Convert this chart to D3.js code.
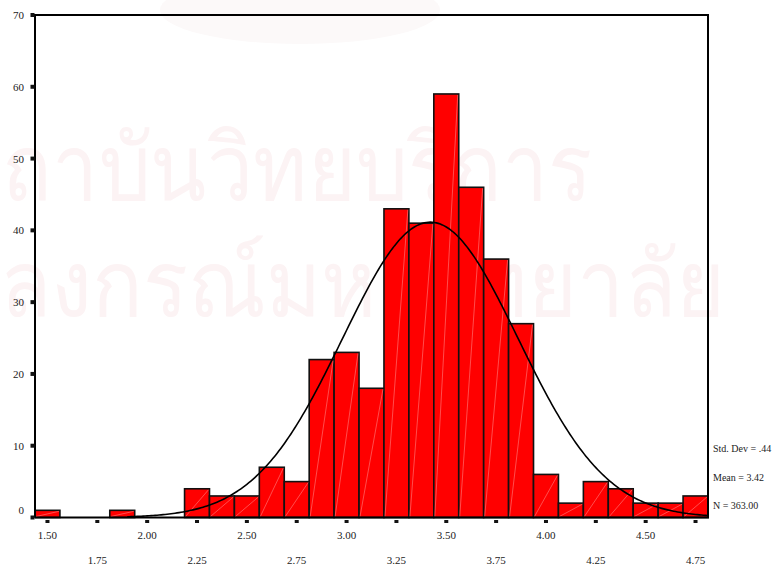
<!DOCTYPE html>
<html>
<head>
<meta charset="utf-8">
<script src="https://cdn.jsdelivr.net/npm/d3@7"></script>
<style>
	body { margin: 0; background: #fff; }
	svg text { font-family: "Liberation Serif", "DejaVu Serif", serif; fill: #222; }
</style>
</head>
<body>
<svg id="chart" width="773" height="565"></svg>
<script>
"use strict";

// bin centres (width .125) and counts
const binCentres = [1.5, 1.625, 1.75, 1.875, 2.0, 2.125, 2.25, 2.375, 2.5, 2.625, 2.75, 2.875,
	3.0, 3.125, 3.25, 3.375, 3.5, 3.625, 3.75, 3.875, 4.0, 4.125, 4.25, 4.375, 4.5, 4.625, 4.75];
const counts = [1, 0, 0, 1, 0, 0, 4, 3, 3, 7, 5, 22,
	23, 18, 43, 41, 59, 46, 36, 27, 6, 2, 5, 4, 2, 2, 3];
const binWidth = 0.125;
const xTicks = [1.5, 1.75, 2.0, 2.25, 2.5, 2.75, 3.0, 3.25, 3.5, 3.75, 4.0, 4.25, 4.5, 4.75];
const yTicks = [0, 10, 20, 30, 40, 50, 60, 70];
const stats = { sd: 0.44, mean: 3.42, n: 363 };
const statLabels = ['Std. Dev = .44', 'Mean = 3.42', 'N = 363.00'];
const watermark = ['ถาบันวิทยบริการ', 'ลงกรณ์มหาวิทยาลัย'];

(() => {
	const svg = d3.select('#chart');
	const left = 35, right = 708, top = 15, bottom = 517.5;

	const x = d3.scaleLinear().domain([1.4375, 4.8125]).range([left, right]);
	const y = d3.scaleLinear().domain([0, 70]).range([bottom, top]);

	// very faint watermark in the background
	const wm = svg.append('g').attr('class', 'watermark');
	wm.append('ellipse')
		.attr('cx', 300).attr('cy', 10).attr('rx', 140).attr('ry', 34)
		.attr('fill', '#fcf9f9');
	wm.selectAll('text')
		.data(watermark)
		.enter()
		.append('text')
		.attr('x', (d, i) => i == 0 ? 2 : 0)
		.attr('y', (d, i) => i == 0 ? 200 : 316)
		.attr('textLength', (d, i) => i == 0 ? 590 : 725)
		.attr('lengthAdjust', 'spacingAndGlyphs')
		.style('font-family', '"Noto Sans", "DejaVu Sans", sans-serif')
		.style('font-size', '92px')
		.style('fill', '#fcf3f4')
		.text((d) => d);

	// bars
	const g_bars = svg.append('g').attr('class', 'bars');
	const bars = binCentres.map((c, i) => ({ x0: c - binWidth / 2, x1: c + binWidth / 2, n: counts[i] }))
		.filter((d) => d.n > 0);
	g_bars.selectAll('rect')
		.data(bars)
		.enter()
		.append('rect')
		.attr('x', (d) => x(d.x0))
		.attr('y', (d) => y(d.n))
		.attr('width', (d) => x(d.x1) - x(d.x0))
		.attr('height', (d) => y(0) - y(d.n))
		.attr('fill', '#ff0000')
		.attr('stroke', '#111')
		.attr('stroke-width', 1.6);
	// faint diagonal seams seen inside each bar
	g_bars.selectAll('line')
		.data(bars)
		.enter()
		.append('line')
		.attr('x1', (d) => x(d.x0) + 1)
		.attr('y1', y(0) - 1)
		.attr('x2', (d) => x(d.x1) - 1)
		.attr('y2', (d) => y(d.n) + 1)
		.attr('stroke', '#ff9a9a')
		.attr('stroke-width', 0.5);

	// normal curve from the stated mean / sd / N
	const pdf = (v) => Math.exp(-0.5 * Math.pow((v - stats.mean) / stats.sd, 2)) / (stats.sd * Math.sqrt(2 * Math.PI));
	const curve = d3.range(1.9, 4.8125, 0.01).map((v) => [v, stats.n * binWidth * pdf(v)]);
	svg.append('path')
		.datum(curve)
		.attr('fill', 'none')
		.attr('stroke', '#000')
		.attr('stroke-width', 1.6)
		.attr('d', d3.line().x((d) => x(d[0])).y((d) => y(d[1])));

	// frame
	svg.append('path')
		.attr('d', `M${left},${bottom}V${top}H${right}V${bottom}H${left}`)
		.attr('fill', 'none')
		.attr('stroke', '#000')
		.attr('stroke-width', 2);

	// y ticks and labels
	const g_y = svg.append('g').attr('class', 'y-axis');
	g_y.selectAll('rect')
		.data(yTicks)
		.enter()
		.append('rect')
		.attr('x', 30.5).attr('y', (d) => y(d) - 2)
		.attr('width', 4).attr('height', 4)
		.attr('fill', '#111');
	g_y.selectAll('text')
		.data(yTicks)
		.enter()
		.append('text')
		.attr('x', 24)
		.attr('y', (d) => y(d) + (d == 0 ? -4 : 4))
		.attr('text-anchor', 'end')
		.style('font-size', '11px')
		.text((d) => d);

	// x ticks and staggered labels
	const g_x = svg.append('g').attr('class', 'x-axis');
	g_x.selectAll('rect')
		.data(xTicks)
		.enter()
		.append('rect')
		.attr('x', (d) => x(d) - 2).attr('y', 520)
		.attr('width', 4).attr('height', 3)
		.attr('fill', '#111');
	g_x.selectAll('text')
		.data(xTicks)
		.enter()
		.append('text')
		.attr('x', (d) => x(d))
		.attr('y', (d, i) => i % 2 == 0 ? 539 : 564)
		.attr('text-anchor', 'middle')
		.style('font-size', '11px')
		.text((d) => d3.format('.2f')(d));

	// stats block
	svg.append('g').attr('class', 'stats')
		.selectAll('text')
		.data(statLabels)
		.enter()
		.append('text')
		.attr('x', 713)
		.attr('y', (d, i) => 452 + i * 28.5)
		.style('font-size', '10px')
		.text((d) => d);
})();
</script>
</body>
</html>
